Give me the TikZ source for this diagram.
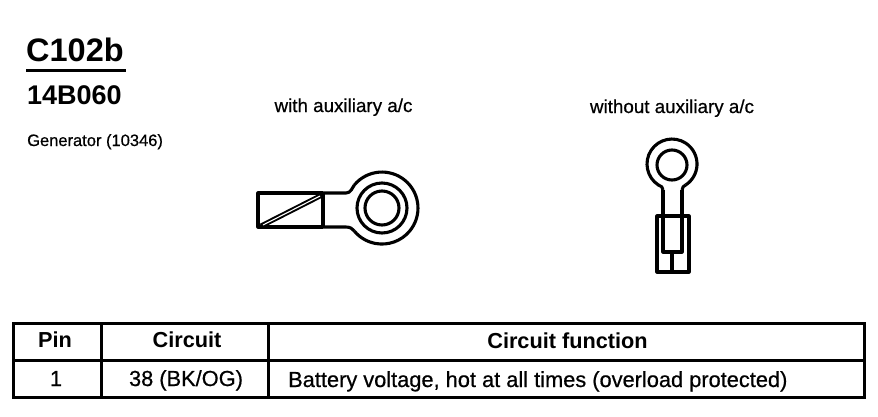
\documentclass[tikz,border=0pt]{standalone}
\usepackage{fontspec}
\setmainfont{Liberation Sans}
\newfontfamily\heavyfont[FakeBold=0.6]{Liberation Sans}
\tikzset{
  px/.style={x=1pt,y=-1pt},
  ln/.style={draw=black,line width=3.1pt,line join=round},
  rule/.style={draw=black,line width=3pt},
  lbl/.style={inner sep=0pt,anchor=base west,text=black},
  clbl/.style={inner sep=0pt,anchor=base,text=black},
}
\begin{document}
\begin{tikzpicture}[px]
\useasboundingbox (0,0) rectangle (878,416);
\fill[white] (0,0) rectangle (878,416);
% titles
\node[lbl,font=\bfseries\fontsize{32.5}{33}\selectfont] (title) at (26,61) {C102b};
\draw[rule] (26,70.5) -- (126,70.5);
\node[lbl,font=\bfseries\fontsize{27}{27}\selectfont] (part) at (27,104) {14B060};
\node[lbl,font=\heavyfont\fontsize{16.5}{17}\selectfont] (gen) at (27,146) {Generator (10346)};
\node[clbl,font=\heavyfont\fontsize{18.8}{19}\selectfont] (with) at (343.5,112) {with auxiliary a/c};
\node[clbl,font=\heavyfont\fontsize{18.8}{19}\selectfont] (without) at (672,113) {without auxiliary a/c};
% left lug
\draw[ln] (323,193) -- (258,193) -- (258,227) -- (323,227);
\draw[ln] (323,193) -- (323,227);
\draw[ln] (323,193) -- (346,193) .. controls (351,193) and (352,188) .. (354.4,184.9);
\draw[ln] (323,227) -- (346,227) .. controls (351,227) and (352,229) .. (354.4,231.1);
\draw[ln] (354.4,184.9) arc[start angle=-140,end angle=140,radius=36];
\draw[ln] (382,208) circle[radius=25];
\draw[ln] (382,208) circle[radius=17];
\draw[black,line width=5pt] (261,226) -- (322,195);
\draw[white,line width=1.1pt] (263,225) -- (320,196);
% right lug
\draw[ln] (663,190) .. controls (663,187) and (661,186) .. (658.4,185)
  arc[start angle=123,end angle=417,radius=25];
\draw[ln] (685.6,185) .. controls (684,186) and (682,187) .. (682,190);
\draw[ln] (672,165) circle[radius=15];
\draw[ln] (663,190) -- (663,252) -- (682,252) -- (682,190);
\draw[ln] (657,216) rectangle (689,272);
\draw[ln] (672,252) -- (672,272);
% table
\draw[rule] (13,323) rectangle (864,397);
\draw[rule] (13,360) -- (864,360);
\draw[rule] (101,323) -- (101,397);
\draw[rule] (268,323) -- (268,397);
\node[clbl,font=\bfseries\fontsize{21.7}{22}\selectfont] (h1) at (55,347) {Pin};
\node[clbl,font=\bfseries\fontsize{21.7}{22}\selectfont] (h2) at (187,347) {Circuit};
\node[clbl,font=\bfseries\fontsize{21.7}{22}\selectfont] (h3) at (567.5,348) {Circuit function};
\node[clbl,font=\heavyfont\fontsize{21.8}{22}\selectfont] (c1) at (56,386) {1};
\node[clbl,font=\heavyfont\fontsize{21.8}{22}\selectfont] (c2) at (186,386) {38 (BK/OG)};
\node[lbl,font=\heavyfont\fontsize{21.8}{22}\selectfont] (c3) at (288,387) {Battery voltage, hot at all times (overload protected)};
\end{tikzpicture}
\end{document}
